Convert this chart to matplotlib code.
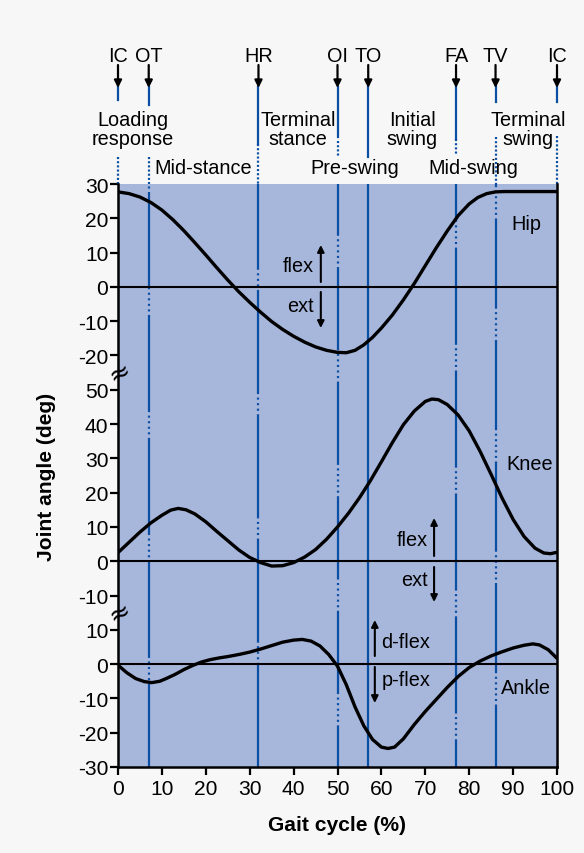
import matplotlib
matplotlib.use('Agg')
import matplotlib.pyplot as plt
import matplotlib.transforms as mtransforms
from matplotlib import font_manager as fm
import numpy as np

# ---------------- data ----------------
gait_x_hip = [0, 2.5, 5, 7.5, 10, 12.5, 15, 17.5, 20, 22.5, 25, 27.5, 30, 32.5, 35, 37.5, 40,
              42.5, 45, 47.5, 50, 52, 54, 56, 58, 60, 62.5, 65, 67.5, 70, 72.5, 75, 77.5, 80,
              82, 84, 86, 88, 100]
hip_angle = [27.7, 27.2, 26.2, 24.6, 22.4, 19.6, 16.4, 12.9, 9.3, 5.6, 2.0, -1.4, -4.5, -7.4,
             -10.1, -12.4, -14.4, -16.1, -17.5, -18.5, -19.1, -19.2, -18.5, -16.9, -14.7, -12.0,
             -8.2, -3.8, 1.0, 6.2, 11.4, 16.3, 20.8, 24.2, 26.1, 27.2, 27.7, 27.8, 27.8]

gait_x_knee = [0, 2.5, 5, 7.5, 10, 12, 13.7, 15.5, 17.5, 20, 22.5, 25, 27.5, 30, 32.5, 35,
               37.5, 40, 42.5, 45, 47.5, 50, 52.5, 55, 57.5, 60, 62.5, 65, 67.5, 70, 71.5, 73,
               75, 77.5, 80, 82.5, 85, 87.5, 90, 92.5, 95, 97, 98.5, 100]
knee_angle = [2.5, 5.5, 8.5, 11.2, 13.4, 14.9, 15.4, 15.0, 13.8, 11.5, 8.7, 6.0, 3.3, 1.1, -0.4,
              -1.4, -1.3, -0.4, 1.2, 3.4, 6.4, 10.0, 14.0, 18.5, 23.5, 29.0, 34.6, 39.8, 43.8,
              46.6, 47.3, 47.1, 45.7, 42.6, 38.0, 32.0, 25.3, 18.4, 12.2, 7.2, 3.8, 2.4, 2.2, 2.6]

gait_x_ankle = [0, 2, 4, 6, 7.7, 9.5, 11, 13, 15, 17, 19, 21, 23, 25, 27.5, 30, 32.5, 35, 37.5,
                40, 42, 44, 46, 48, 50, 52, 54, 56, 58, 60, 61.5, 63, 65, 67.5, 70, 72.5, 75,
                77.5, 80, 82.5, 85, 87.5, 90, 92.5, 94.5, 96, 98, 100]
ankle_angle = [-0.3, -2.5, -4.2, -5.1, -5.4, -5.0, -4.2, -3.0, -1.6, -0.4, 0.6, 1.3, 1.8, 2.2,
               2.8, 3.5, 4.4, 5.4, 6.4, 7.0, 7.2, 6.7, 5.3, 2.8, -0.6, -6.0, -12.5, -18.0,
               -22.0, -24.2, -24.6, -24.2, -21.8, -17.6, -13.8, -10.3, -6.8, -3.6, -1.0, 0.9,
               2.4, 3.6, 4.7, 5.5, 5.9, 5.6, 4.2, 1.7]

event_names = ['IC', 'OT', 'HR', 'OI', 'TO', 'FA', 'TV', 'IC']
event_x = [0, 7, 32, 50, 57, 77, 86, 100]

phase_names = ['Loading\nresponse', 'Mid-stance', 'Terminal\nstance', 'Pre-swing',
               'Initial\nswing', 'Mid-swing', 'Terminal\nswing']
phase_x = [3.4, 19.5, 41.0, 54.0, 67.0, 81.0, 93.5]

x_ticks = [0, 10, 20, 30, 40, 50, 60, 70, 80, 90, 100]
hip_ticks = [30, 20, 10, 0, -10, -20]
knee_ticks = [50, 40, 30, 20, 10, 0, -10]
ankle_ticks = [10, 0, -10, -20, -30]

# vertical offsets of the stacked panels (in degrees on the shared axis)
HIP_OFF, KNEE_OFF, ANKLE_OFF = 110, 30, 0

# ---------------- style ----------------
avail = {f.name for f in fm.fontManager.ttflist}
narrow = 'Liberation Sans Narrow' in avail
base = 'Liberation Sans Narrow' if narrow else 'Liberation Sans'
plt.rcParams['font.family'] = [base, 'DejaVu Sans']
plt.rcParams['lines.scale_dashes'] = False
S = 1.0 if narrow else 0.84
FS_TXT = 17.0 * S
FS_TICK = 18.0 * S
FS_LAB = 18.0 * S

BLUE = '#0a4fa3'
FACE = '#a7b6db'
BG = '#f7f7f7'

fig = plt.figure(figsize=(5.84, 8.54), dpi=100, facecolor=BG)
ax = fig.add_axes([118 / 584, 1 - 768 / 854, (557 - 118) / 584, (768 - 185) / 854])
ax.set_facecolor(FACE)
ax.set_xlim(0, 100)
ax.set_ylim(-30, 140)

# vertical event lines inside the plot
dash_styles = {
    7: (10, (70, 2.5, 1.5, 2.5, 1.5, 2.5, 1.5, 2.5, 1.5, 2.5)),
    32: (0, (75, 2.5, 1.5, 2.5, 1.5, 2.5, 1.5, 2.5)),
    50: (30, (60, 2.5, 1.5, 2.5, 1.5, 2.5, 1.5, 2.5, 1.5, 2.5, 1.5, 2.5)),
    57: '-',
    77: (50, (70, 2.5, 1.5, 2.5, 1.5, 2.5, 1.5, 2.5, 1.5, 2.5)),
    86: (20, (65, 2.5, 1.5, 2.5, 1.5, 2.5, 1.5, 2.5, 1.5, 2.5, 1.5, 2.5)),
}
for xe in event_x:
    if xe in dash_styles:
        ax.axvline(xe, color=BLUE, lw=1.6, linestyle=dash_styles[xe], zorder=1)

# zero lines
for off in (HIP_OFF, KNEE_OFF, ANKLE_OFF):
    ax.axhline(off, color='black', lw=1.5, zorder=2)

# curves
for gx, ang, off in ((gait_x_hip, hip_angle, HIP_OFF),
                     (gait_x_knee, knee_angle, KNEE_OFF),
                     (gait_x_ankle, ankle_angle, ANKLE_OFF)):
    ax.plot(gx, np.array(ang) + off, color='black', lw=2.4, zorder=3,
            solid_capstyle='round', solid_joinstyle='round')

# axes / ticks
for s in ('left', 'bottom', 'right'):
    ax.spines[s].set_linewidth(1.8)
    ax.spines[s].set_color('black')
ax.spines['top'].set_visible(False)
ax.spines['right'].set_zorder(5)

yt = [v + HIP_OFF for v in hip_ticks] + [v + KNEE_OFF for v in knee_ticks] + \
     [v + ANKLE_OFF for v in ankle_ticks]
ylab = [str(v) for v in hip_ticks + knee_ticks + ankle_ticks]
ax.set_yticks(yt)
ax.set_yticklabels(ylab)
ax.set_xticks(x_ticks)
ax.set_xticklabels([str(v) for v in x_ticks])
ax.tick_params(axis='both', direction='out', length=6, width=1.6, labelsize=FS_TICK,
               colors='black')
ax.tick_params(axis='y', pad=1)
ax.tick_params(axis='x', pad=3)

# axis-break marks
for yb in (85, 15):
    ax.text(0.4, yb, '\u2248', ha='center', va='center', fontsize=22 * S, rotation=25,
            color='black', zorder=6, clip_on=False, family='DejaVu Sans')

ax.set_xlabel('Gait cycle (%)', fontsize=FS_LAB, fontweight='bold', labelpad=12)
ax.set_ylabel('Joint angle (deg)', fontsize=FS_LAB, fontweight='bold', labelpad=16)

# ---------------- annotations above the plot ----------------
blend = mtransforms.blended_transform_factory(ax.transData, ax.transAxes)

def fy(py):
    return (768 - py) / 583

for name, xe in zip(event_names, event_x):
    ax.text(xe, fy(57), name, ha='center', va='center', fontsize=FS_TXT, transform=blend,
            clip_on=False)
    ax.annotate('', xy=(xe, fy(89)), xytext=(xe, fy(66)), xycoords=blend, textcoords=blend,
                arrowprops=dict(arrowstyle='-|>', color='black', lw=1.6, mutation_scale=11,
                                shrinkA=0, shrinkB=0), annotation_clip=False)

# solid and dotted segments of the event lines above the plot (pixel rows)
seg_layout = [
    (0, 88, 101, 158, 185),
    (7, 88, 106, 158, 185),
    (32, 88, 145, 145, 185),
    (50, 88, 138, 142, 158),
    (57, 88, 158, None, None),
    (77, 88, 140, 140, 155),
    (86, 88, 103, 138, 185),
    (100, 88, 103, 137, 185),
]
for xe, s0, s1, d0, d1 in seg_layout:
    ax.plot([xe, xe], [fy(s0), fy(s1)], color=BLUE, lw=1.6, transform=blend, clip_on=False)
    if d0 is not None:
        ax.plot([xe, xe], [fy(d0), fy(d1)], color=BLUE, lw=1.6, linestyle=(0, (1.5, 1.5)),
                transform=blend, clip_on=False)

phase_y = [130, 168, 130, 168, 130, 168, 130]
for name, xp, py in zip(phase_names, phase_x, phase_y):
    ax.text(xp, fy(py), name, ha='center', va='center', fontsize=FS_TXT, transform=blend,
            clip_on=False, linespacing=1.0)

# ---------------- annotations inside the plot ----------------
def dy(py):
    return -30 + (768 - py) * 170 / 583

ax.text(93, dy(225), 'Hip', ha='center', va='center', fontsize=FS_TXT)
ax.text(93.8, dy(465), 'Knee', ha='center', va='center', fontsize=FS_TXT)
ax.text(93, dy(688), 'Ankle', ha='center', va='center', fontsize=FS_TXT)

def arrow(x, p0, p1):
    ax.annotate('', xy=(x, dy(p1)), xytext=(x, dy(p0)),
                arrowprops=dict(arrowstyle='-|>', color='black', lw=1.5, mutation_scale=10,
                                shrinkA=0, shrinkB=0))

# hip
ax.text(44.6, dy(267), 'flex', ha='right', va='center', fontsize=FS_TXT)
ax.text(44.6, dy(306), 'ext', ha='right', va='center', fontsize=FS_TXT)
arrow(46.2, 283, 246)
arrow(46.2, 293, 329)
# knee
ax.text(70.5, dy(541), 'flex', ha='right', va='center', fontsize=FS_TXT)
ax.text(70.5, dy(581), 'ext', ha='right', va='center', fontsize=FS_TXT)
arrow(72.0, 557, 519)
arrow(72.0, 568, 603)
# ankle
ax.text(60.0, dy(643), 'd-flex', ha='left', va='center', fontsize=FS_TXT)
ax.text(60.0, dy(680), 'p-flex', ha='left', va='center', fontsize=FS_TXT)
arrow(58.5, 657, 621)
arrow(58.5, 668, 704)

fig.savefig('out.png', dpi=100, facecolor=BG)
